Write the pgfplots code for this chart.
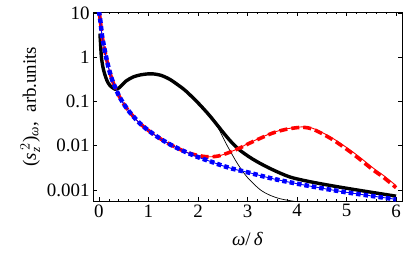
\documentclass[border=0pt]{standalone}
\usepackage{pgfplots}
\pgfplotsset{compat=1.18}
\usepackage{amsmath}
\usepackage{fontspec}
\setmainfont{Liberation Serif}
\usetikzlibrary{calc}

\pgfplotstableread{
x y
0.0 11
0.03 6.5
0.06 3.2
0.1 1.8
0.15 0.95
0.2 0.55
0.25 0.35
0.3 0.245
0.4 0.137
0.5 0.088
0.6 0.061
0.7 0.045
0.8 0.034
0.9 0.027
1.0 0.022
1.2 0.0153
1.4 0.0112
1.6 0.0086
1.8 0.0068
2.0 0.0055
2.25 0.0044
2.5 0.0035
2.75 0.0029
3.0 0.0025
3.5 0.0018
4.0 0.00138
4.5 0.00109
5.0 0.00088
5.5 0.00073
6.0 0.00061
}\blue

\pgfplotstableread{
x y
0.0 11
0.03 6.5
0.06 3.2
0.1 1.8
0.15 0.95
0.2 0.55
0.25 0.35
0.3 0.245
0.4 0.137
0.5 0.088
0.6 0.061
0.7 0.045
0.8 0.034
0.9 0.027
1.0 0.022
1.2 0.0153
1.4 0.0112
1.6 0.0086
1.8 0.0069
2.0 0.0060
2.2 0.0056
2.4 0.0058
2.6 0.0068
2.85 0.0090
3.0 0.0110
3.25 0.0148
3.5 0.0195
3.75 0.0235
4.0 0.0260
4.15 0.0265
4.3 0.0250
4.5 0.0200
4.75 0.0140
5.07 0.0080
5.3 0.0051
5.54 0.0031
5.75 0.0021
6.0 0.00125
}\redthin

\pgfplotstableread{
x y
0.0 11
0.03 6.5
0.06 3.2
0.1 1.8
0.15 0.95
0.2 0.55
0.25 0.35
0.3 0.245
0.4 0.137
0.5 0.088
0.6 0.061
0.7 0.045
0.8 0.034
0.9 0.027
1.0 0.022
1.2 0.0153
1.4 0.0112
1.6 0.0086
1.8 0.0069
2.0 0.0060
2.2 0.0056
2.4 0.0058
2.6 0.0068
2.85 0.0089
3.0 0.0108
3.25 0.0145
3.5 0.0191
3.75 0.0230
4.0 0.0255
4.15 0.0258
4.3 0.0240
4.5 0.0188
4.75 0.0130
5.07 0.0073
5.3 0.0046
5.54 0.0028
5.75 0.0019
6.0 0.00112
}\reddash

\pgfplotstableread{
x y
0.02 3.4
0.035 1.8
0.05 1.0
0.08 0.6
0.115 0.42
0.16 0.3
0.22 0.23
0.32 0.19
0.4 0.2
0.55 0.29
0.7 0.36
0.85 0.40
1.0 0.42
1.1 0.418
1.25 0.39
1.43 0.316
1.6 0.234
1.75 0.174
2.0 0.093
2.24 0.047
2.5 0.0204
2.65 0.0129
2.8 0.0087
2.95 0.00646
3.1 0.0050
3.25 0.0040
3.5 0.00288
3.86 0.00195
4.3 0.0015
4.87 0.00115
5.4 0.00092
6.0 0.00072
}\blackthick

\pgfplotstableread{
x y
0.02 3.4
0.035 1.8
0.05 1.0
0.08 0.6
0.115 0.42
0.16 0.3
0.22 0.23
0.32 0.19
0.4 0.2
0.55 0.29
0.7 0.36
0.85 0.40
1.0 0.42
1.1 0.418
1.25 0.39
1.43 0.316
1.6 0.234
1.75 0.174
2.0 0.093
2.24 0.047
2.4 0.026
2.58 0.0105
2.75 0.0048
2.85 0.0032
3.0 0.0019
3.25 0.00102
3.45 0.00076
3.66 0.00063
3.9 0.00056
4.1 0.00052
}\blackthin

\begin{document}
\begin{tikzpicture}
\begin{axis}[
  name=ax,
  scale only axis,
  width=309bp, height=189bp,
  xmin=-0.12, xmax=6.12,
  ymode=log,
  ymin=0.00056, ymax=10.5,
  xtick={0,1,2,3,4,5,6},
  minor x tick num=4,
  ytick={0.001,0.01,0.1,1,10},
  yticklabels={0.001,0.01,0.1,1,10},
  yminorticks=false,
  tick align=inside,
  major tick length=4bp,
  minor tick length=2bp,
  tick style={black, line width=0.6pt},
  axis line style={black, line width=0.8pt},
  /pgf/number format/assume math mode=true,
  tick label style={font=\fontsize{19}{21}\selectfont},
  label style={font=\fontsize{19}{21}\selectfont},
  xlabel={\textit{ω}/\,\textit{δ}},
  ylabel={(\textit{s}$_{\textit{z}}^{\,2}$)$_{\textit{ω}}$,\ \ arb.units},
  xlabel style={yshift=-8bp},
  ylabel style={yshift=0bp},
  clip=true,
]
\addplot[black, line width=3.4pt, smooth] table {\blackthick};
\addplot[black, line width=0.7pt, smooth] table {\blackthin};
\addplot[red, line width=3.6pt, dash pattern=on 8bp off 4bp, smooth] table {\reddash};
\addplot[red, line width=0.9pt, smooth] table {\redthin};
\addplot[blue, line width=0.9pt, smooth] table {\blue};
\addplot[blue, line width=4.5pt, dash pattern=on 4.5bp off 3bp, smooth] table {\blue};
\end{axis}
\pgfresetboundingbox
\path[use as bounding box] ($(ax.south west)+(-93bp,-64bp)$) rectangle ($(ax.north east)+(5bp,12bp)$);
\end{tikzpicture}
\end{document}
